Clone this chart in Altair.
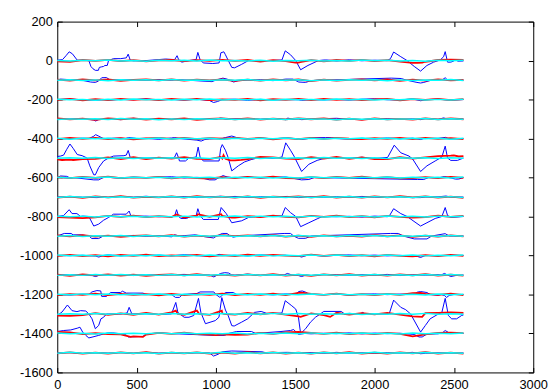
import altair as alt
import pandas as pd

# channel offsets (each trace is plotted around its own baseline)
OFFSETS = [0, -100, -200, -300, -400, -500, -600, -700,
           -800, -900, -1000, -1100, -1200, -1300, -1400, -1500]

X_TICKS = [0, 500, 1000, 1500, 2000, 2500, 3000]
Y_TICKS = [-1600, -1400, -1200, -1000, -800, -600, -400, -200, 0, 200]

# sample positions for the small fluctuations
GRID_X = [0, 80, 160, 240, 320, 400, 480, 560, 640, 720, 800, 880, 960, 1040, 1120,
          1200, 1280, 1360, 1440, 1520, 1600, 1680, 1760, 1840, 1920, 2000, 2080,
          2160, 2240, 2320, 2400, 2480, 2560]

# blue traces: (sample, deviation from channel baseline)
BLUE_POINTS = [
    [(0, 2), (33, 5), (55, 25), (75, 45), (95, 35), (126, 2), (199, 0), (212, -30), (225, -42),
     (240, -50), (259, -50), (265, -35), (280, -32), (292, -30), (300, -25), (315, -25), (323, 0),
     (354, 10), (400, 10), (435, 14), (447, 33), (460, 2), (560, 0), (683, 8), (740, 5), (755, 25),
     (765, 5), (785, -8), (830, 0), (875, 5), (886, 42), (900, 5), (920, -12), (980, -15),
     (1020, -12), (1031, 40), (1050, 45), (1060, 30), (1078, 0), (1100, -35), (1118, -37),
     (1160, -20), (1205, 0), (1416, 3), (1437, 50), (1470, 30), (1503, 0), (1534, -47),
     (1580, -25), (1646, 0), (1700, 3), (2080, 0), (2100, 10), (2120, 44), (2165, 20), (2205, 0),
     (2250, -30), (2290, -54), (2330, -25), (2372, -8), (2414, 3), (2435, 20), (2445, 46),
     (2460, -8), (2480, -8), (2497, -3), (2510, 5), (2525, -3), (2560, -2)],
    [(0, 0), (20, 5), (60, 3), (150, 0), (210, -10), (240, -12), (260, -5), (280, 12), (310, 13),
     (330, 2), (600, 0), (750, 3), (975, -8), (1000, 0), (1044, 10), (1070, 5), (1112, -10),
     (1140, -3), (1200, 0), (1440, 5), (1485, 5), (1522, -10), (1565, -12), (1600, -3), (1700, 0),
     (2105, 10), (2168, 8), (2200, 0), (2267, -12), (2290, -15), (2310, -12), (2350, -2),
     (2430, 3), (2445, 12), (2460, 0), (2560, 0)],
    [(0, 0), (250, -3), (300, 0), (600, 0), (960, -5), (985, -15), (1010, -10), (1040, 0),
     (1440, 0), (1540, -4), (1600, 0), (2290, -6), (2330, 0), (2560, 0)],
    [(0, 0), (230, -5), (242, -10), (260, -3), (300, 0), (1000, 0), (1030, 5), (1060, 0),
     (1453, 5), (1480, 0), (1540, -3), (1600, 0), (2290, -3), (2435, 6), (2460, 0), (2560, 0)],
    [(0, 0), (200, 0), (230, 12), (242, 20), (262, 12), (290, 0), (430, 0), (450, 5), (480, 3),
     (500, 0), (740, 5), (770, 0), (880, -8), (907, -13), (930, -5), (1060, 5), (1100, 13),
     (1130, 5), (1160, 0), (1450, 3), (1540, -5), (1580, 0), (1690, 5), (1730, 5), (1760, 0),
     (2290, -5), (2310, 0), (2447, 6), (2470, -2), (2560, 0)],
    [(0, 8), (20, 10), (40, 15), (60, 45), (80, 72), (100, 50), (126, 18), (157, 12), (175, 5),
     (188, 0), (205, -40), (230, -86), (240, -86), (261, -49), (292, -15), (323, 0), (354, 10),
     (420, 12), (435, 15), (447, 39), (460, 2), (560, 0), (700, 0), (740, 5), (752, 27), (765, 0),
     (770, -15), (808, -15), (830, 0), (875, 5), (888, 56), (900, 5), (920, -15), (1020, -15),
     (1030, 50), (1040, 69), (1060, 40), (1078, 0), (1100, -66), (1141, -40), (1180, -20),
     (1222, -8), (1260, 0), (1416, 5), (1440, 78), (1470, 40), (1492, 10), (1540, -69),
     (1586, -32), (1638, -12), (1690, 0), (2082, 3), (2124, 66), (2165, 27), (2217, 10),
     (2240, -5), (2290, -69), (2330, -40), (2382, -15), (2424, 5), (2445, 61), (2460, 0),
     (2480, -12), (2522, -12), (2560, 0)],
    [(0, 0), (20, 8), (60, 6), (100, 0), (230, -12), (261, -12), (290, 0), (900, 0), (960, -12),
     (995, -12), (1020, 0), (1045, 10), (1070, 3), (1100, 0), (1440, 3), (1540, -12), (1586, -10),
     (1620, 0), (2270, -10), (2310, -10), (2340, 0), (2440, 5), (2510, -8), (2530, -8), (2560, 0)],
    [(0, 0), (250, -3), (300, 0), (1030, 4), (1060, 0), (1450, 3), (1480, 0), (2290, -3),
     (2320, 0), (2450, 5), (2480, 0), (2560, 0)],
    [(0, 0), (40, 5), (75, 35), (93, 15), (124, 15), (147, 0), (199, 0), (230, -49), (261, -39),
     (292, -19), (323, -5), (354, 12), (435, 12), (453, 28), (465, 0), (700, 0), (740, 3),
     (752, 35), (765, 0), (780, -10), (815, -10), (840, 0), (875, 3), (886, 40), (900, 5),
     (920, -15), (1015, -15), (1033, 46), (1065, 15), (1100, -32), (1162, -22), (1205, -5),
     (1250, 0), (1416, 3), (1437, 46), (1470, 20), (1503, 0), (1534, -52), (1586, -32),
     (1638, -12), (1670, 0), (2093, 3), (2120, 40), (2165, 15), (2205, 0), (2290, -49),
     (2330, -32), (2382, -10), (2424, 0), (2445, 46), (2460, 5), (2480, -5), (2560, 0)],
    [(0, 0), (44, 13), (87, 13), (100, 6), (150, 6), (200, 0), (218, -13), (261, -13), (290, 0),
     (740, 6), (770, 0), (870, 6), (900, 0), (985, -10), (1005, 0), (1040, 13), (1070, 13),
     (1090, 0), (1110, -6), (1140, 0), (1430, 13), (1470, 13), (1490, 0), (1520, -12),
     (1565, -12), (1600, 0), (2100, 13), (2150, 13), (2180, 0), (2250, -15), (2330, -15),
     (2360, 0), (2445, 12), (2470, 0), (2560, 0)],
    [(0, 0), (240, -3), (262, -8), (290, 0), (1000, 0), (1020, 6), (1045, 0), (1520, -3),
     (1540, -8), (1570, 0), (2270, -5), (2290, -10), (2320, 0), (2560, 0)],
    [(0, 0), (220, -3), (242, -8), (270, 0), (960, 0), (987, -10), (1010, 0), (1030, 8),
     (1055, 12), (1080, 10), (1100, 0), (1430, 0), (1450, 8), (1480, 0), (1520, -3), (1540, -8),
     (1570, 0), (2420, 0), (2440, 8), (2460, 0), (2480, -8), (2510, -3), (2560, 0)],
    [(0, 0), (200, 0), (218, 13), (250, 20), (274, 18), (280, -10), (310, -10), (335, 10),
     (400, 10), (410, 17), (435, 7), (540, 7), (560, 0), (720, 0), (745, -15), (770, -15),
     (790, 0), (880, 5), (900, 13), (987, 13), (1000, 0), (1025, -15), (1045, 0), (1060, 10),
     (1110, 10), (1130, 0), (1500, 0), (1522, 15), (1544, 18), (1565, 12), (1590, 0), (2250, 0),
     (2270, 12), (2290, 15), (2330, 10), (2350, 0), (2420, 0), (2440, -5), (2454, -15),
     (2470, -5), (2500, 0), (2560, 0)],
    [(0, -8), (30, 10), (64, 46), (93, 17), (124, 12), (147, 17), (180, 15), (199, 0),
     (219, -25), (240, -76), (261, -59), (275, -25), (292, -17), (310, 0), (400, 0), (440, 5),
     (453, 34), (470, 0), (720, 0), (747, 59), (760, 8), (800, -17), (830, -17), (860, -8),
     (890, 80), (905, 8), (934, -50), (996, -34), (1019, -17), (1037, 84), (1060, 20),
     (1078, -10), (1100, -60), (1115, -62), (1162, -42), (1200, -25), (1243, 8), (1285, 13),
     (1320, 3), (1416, 5), (1437, 68), (1478, 42), (1503, 25), (1520, -17), (1534, -101),
     (1565, -76), (1596, -42), (1627, -17), (1658, 0), (1680, 13), (1790, 13), (1810, 0),
     (1910, 0), (1925, 8), (1940, 0), (2093, 3), (2120, 71), (2165, 34), (2196, 22), (2227, 0),
     (2290, -93), (2320, -59), (2350, -25), (2392, -5), (2424, 8), (2445, 80), (2465, -8),
     (2486, -25), (2517, -25), (2548, -8), (2560, -5)],
    [(0, 10), (40, 15), (85, 18), (126, 27), (143, 32), (160, 7), (180, -10), (199, -23),
     (219, -19), (261, -10), (290, -3), (350, 3), (430, -5), (447, -18), (540, -15), (560, -3),
     (700, 0), (990, -10), (1055, -10), (1080, 0), (1130, 10), (1224, 10), (1250, 0), (1410, 10),
     (1470, 15), (1490, 20), (1520, -5), (1560, 0), (2250, -5), (2280, -18), (2300, -18),
     (2330, -3), (2430, 5), (2445, 15), (2470, 3), (2560, 0)],
    [(0, 0), (400, 2), (960, 0), (985, -16), (1016, -6), (1040, 6), (1100, 10), (1290, 6),
     (1320, 0), (1450, 3), (2290, -4), (2560, 0)],
]

# small blue fluctuations at GRID_X (used only on the quiet stretches)
BLUE_NOISE = [
    [2, -3, 1, 4, -2, 3, -1, 2, -4, 1, 3, -2, 2, -3, 1, 4, -2, 1, -3, 2, -1, 3, -2, 4, -1, 2, -3, 1, 3, -2, 2, -1, 1],
    [-3, 2, -1, 3, -4, 1, 2, -2, 3, -1, 2, -3, 1, -2, 4, -1, 2, -3, 1, 3, -2, 1, -4, 2, -1, 3, -2, 2, -1, -3, 2, -2, 1],
    [1, 3, -2, 2, -3, 1, -1, 4, -2, 1, -3, 2, 3, -1, 2, -4, 1, -2, 3, -1, 2, -2, 1, -3, 2, 4, -1, -2, 3, -1, 2, -3, 2],
    [-2, 1, 3, -1, 2, -3, 4, -2, 1, -1, 3, -2, 2, -4, 1, 2, -1, 3, -3, 1, -2, 2, 4, -1, -3, 1, 2, -2, 1, 3, -2, 1, -1],
    [3, -1, 2, -3, 1, 2, -2, 1, -4, 3, -1, 2, -2, 1, 3, -3, 2, -1, 1, -2, 4, -1, 2, -3, 1, -2, 3, -1, 2, -4, 1, 2, -2],
    [-1, 3, -2, 1, -3, 2, 1, -2, 3, -1, -2, 4, -1, 2, -3, 1, 2, -2, 3, -1, 1, -3, 2, -1, 4, -2, 1, -1, 2, -3, 3, -1, 2],
    [2, -2, 3, -1, 1, -3, 2, -1, 2, 4, -2, 1, -3, 2, -1, 3, -2, 1, -1, 2, -4, 1, 3, -2, 1, -1, 2, -3, 1, 2, -2, 3, -1],
    [-3, 1, -1, 2, -2, 3, -1, 4, -2, 1, 2, -3, 1, -1, 3, -2, 2, -1, 4, -3, 1, -2, 2, -1, 3, -1, -2, 2, -3, 1, 1, -2, 2],
    [1, -2, 2, -1, 3, -3, 1, 2, -1, -2, 3, -1, 2, -3, 1, 1, -2, 3, -1, 2, -2, 4, -1, 1, -3, 2, -1, 3, -2, 1, -1, 2, -2],
    [-2, 2, -3, 1, 2, -1, 3, -2, 1, -4, 2, -1, 1, 3, -2, 2, -1, -3, 2, 1, -1, 3, -2, 2, -1, -2, 4, -1, 1, -3, 2, -1, 1],
    [2, -1, 1, -3, 3, -2, 1, -1, 2, -2, 4, -1, -3, 2, 1, -2, 3, -1, 1, -2, 2, -3, 1, 3, -1, 2, -2, 1, -4, 2, -1, 1, -2],
    [-1, 2, -2, 3, -1, 1, -3, 2, -2, 1, 3, -1, 2, -2, -1, 4, -2, 1, -1, 3, -3, 2, 1, -2, 2, -1, 3, -3, 1, -1, 2, -2, 1],
    [1, -3, 2, -1, 2, -2, 3, -1, 1, -2, 2, 4, -1, -3, 2, -1, 1, -2, 3, -2, 1, -1, 2, -3, 1, 3, -1, 2, -2, 1, -4, 2, -1],
    [-2, 1, -1, 3, -2, 2, -1, 1, -3, 2, -1, 2, -2, 1, 3, -1, -2, 2, -1, 1, -3, 2, -1, 3, -2, 1, -1, 2, -2, 3, -1, 1, -2],
    [2, -2, 1, -1, 3, -2, 1, -3, 2, -1, 2, -1, 3, -2, 1, -1, 2, -4, 1, 2, -2, 1, -1, 3, -2, 2, -1, 1, -3, 2, -2, 1, -1],
    [-1, 2, -3, 2, -1, 1, -2, 3, -1, 2, -2, 1, -1, 3, -2, 1, -3, 2, -1, 1, 2, -2, 3, -1, 1, -2, 2, -1, 3, -2, 1, -1, 2],
]

# red traces: deviation at each GRID_X sample
RED_NOISE = [
    [-4, -6, 3, -2, 4, -3, 2, -4, 1, 3, -3, 2, -2, 4, -1, 3, -5, 2, -3, -10, 2, -4, 3, -2, 4, -3, 2, -5, -12, -6, 3, 5, 3],
    [2, -3, 4, -2, 3, -4, 1, 3, -2, 4, -3, 2, -1, 3, -4, 2, -3, 4, -2, 3, -5, 2, -3, 1, 4, -2, 3, -4, 2, -3, 4, -2, 1],
    [-2, 3, -4, 2, -3, 4, -1, 2, -3, 3, -2, 4, -3, 1, -2, 3, -4, 2, -1, 3, -3, 4, -2, 2, -3, 1, 3, -4, 2, -2, 3, -3, 2],
    [3, -2, 2, -4, 3, -1, 4, -3, 2, -2, 3, -4, 1, 3, -2, 4, -3, 2, -2, 3, -1, 4, -3, 2, -4, 3, -2, 1, -3, 4, -2, 3, -1],
    [-3, 4, -2, 3, -3, 2, -4, 1, 3, -2, 4, -3, 2, -1, 4, -2, 3, -4, 2, -3, 3, -2, 4, -1, -3, 2, -2, 4, -3, 3, -2, 2, -3],
    [-7, -8, -6, -4, 3, -5, 4, -6, 2, -3, 5, -4, -6, -3, -12, -5, 6, 4, -3, -5, 5, -3, 6, -4, 3, -6, -5, 4, -3, 3, 10, 12, 10],
    [2, -3, 3, -2, 4, -3, 1, -2, 3, -4, 2, -3, -5, 2, -3, 3, -2, 4, -3, -4, 2, -3, 3, -2, 4, -3, 2, -4, -3, 2, -3, 3, -2],
    [-3, 2, -4, 3, -2, 4, -3, 1, -2, 3, -3, 4, -2, 2, -3, 3, -4, 2, -1, 3, -2, 4, -3, 2, -3, 3, -2, 4, -2, 3, -3, 2, -4],
    [-3, -6, -8, -4, 3, -2, 4, -3, 2, -3, -5, 4, -2, 3, -6, 2, -3, 4, -2, -4, 3, -2, 4, -3, 2, -4, 3, -2, -6, -3, 4, -2, 3],
    [3, -2, 4, -3, 2, -4, 1, 3, -2, 4, -3, 2, -3, 4, -1, 3, -2, 4, -3, 2, -4, 3, -2, 1, -3, 4, -2, 3, -4, 2, -3, 3, -2],
    [-2, 3, -3, 2, -4, 3, -2, 4, -3, 1, -2, 3, -4, 2, -3, 4, -2, 3, -1, -3, 4, -2, 3, -3, 2, -4, 3, -2, -4, 2, -3, 3, -2],
    [2, -4, 3, -2, 3, -3, 2, -4, 1, 3, -2, 4, -3, 2, -3, 3, -2, 4, -3, 2, -4, 3, -2, 4, -3, 2, -3, 3, -2, 4, -3, 2, -3],
    [-3, 2, -2, 4, -3, 3, -2, 2, -4, 3, -3, 2, -2, 4, -3, 3, -2, 4, -3, 8, 3, -2, 4, -3, 2, -3, 3, -2, 7, 3, -2, 4, -3],
    [-8, -10, -6, 4, -5, 3, -4, 5, -3, 8, -4, 6, -5, 4, -3, 6, -2, 5, -4, -12, 3, -6, 6, -3, 4, -2, 5, -3, -12, 4, 6, 8, 5],
    [8, 5, -3, 2, -4, -5, -15, -6, 3, -2, 4, -3, -6, -5, -7, -4, 3, -2, 5, 8, 3, -2, 4, -3, 2, -3, 3, -2, -15, -5, 3, 4, 2],
    [-2, 3, -3, 2, -4, 3, -2, 4, -3, 2, -2, 3, -4, 2, -3, 4, -2, 3, -3, 2, -4, 3, -2, 4, -3, 2, -3, 3, -2, 4, -3, 2, -3],
]

# extra red excursions: (sample, deviation)
RED_SPIKES = [
    [(1500, -10), (1530, -8), (2270, -12), (2300, -10)],
    [], [], [], [],
    [(30, -10), (100, -10), (1030, 6), (1048, 15), (1060, -4), (1090, -12), (1160, -10), (2500, 14), (2530, 8)],
    [], [],
    [(752, 10), (886, 12), (1033, 12), (1100, -6)],
    [], [], [],
    [(1540, 10), (2290, 8)],
    [(747, 17), (760, 0), (880, 17), (895, 0), (1037, 17), (1050, 0), (1534, -15), (1720, -15), (2300, -15)],
    [(462, -18), (540, -18), (1000, -8), (1200, -6)],
    [],
]

# cyan traces: deviation at each GRID_X sample
CYAN_NOISE = [
    [1, -2, 2, -1, 3, -2, 1, -3, 2, -1, 2, -2, 3, -1, 1, -2, 2, -3, 1, -1, 2, -2, 1, -2, 3, -1, 2, -2, 1, -3, 2, -1, 2],
    [-1, 2, -2, 1, -3, 2, -1, 2, -2, 3, -1, 1, -2, 2, -1, 3, -2, 1, -1, 2, -3, 1, -2, 2, -1, 2, -3, 1, -2, 1, -1, 3, -2],
    [2, -1, 1, -3, 2, -2, 3, -1, 1, -2, 2, -1, 3, -2, 1, -1, 2, -3, 2, -1, 1, -2, 3, -1, 2, -2, 1, -1, 3, -2, 1, -2, 2],
    [-2, 1, -1, 2, -2, 3, -1, 2, -3, 1, -2, 2, -1, 3, -2, 1, -1, 2, -2, 3, -1, 1, -3, 2, -1, 2, -2, 1, -1, 3, -2, 2, -1],
    [1, -3, 2, -1, 2, -2, 1, -1, 3, -2, 2, -1, 1, -3, 2, -2, 1, -1, 3, -2, 1, -2, 2, -1, 3, -1, 2, -2, 1, -1, 2, -3, 1],
    [-1, 2, -1, 3, -2, 1, -2, 2, -1, 1, -3, 2, -2, 1, -1, 3, -2, 2, -1, 1, -2, 3, -1, 2, -2, 1, -3, 2, -1, 2, -2, 1, -1],
    [2, -2, 1, -1, 3, -2, 2, -1, 1, -2, 3, -1, 2, -3, 1, -1, 2, -2, 1, -2, 3, -1, 1, -2, 2, -1, 3, -2, 1, -1, 2, -2, 3],
    [-2, 3, -1, 2, -2, 1, -3, 2, -1, 3, -2, 1, -1, 2, -2, 3, -1, 1, -2, 2, -3, 1, -1, 3, -2, 2, -1, 1, -2, 3, -1, 2, -2],
    [1, -1, 2, -2, 3, -1, 1, -3, 2, -1, 2, -2, 1, -1, 3, -2, 2, -1, 1, -2, 2, -3, 1, -1, 2, -2, 3, -1, 1, -2, 2, -1, 1],
    [-1, 2, -3, 1, -1, 2, -2, 3, -1, 1, -2, 2, -1, 3, -2, 1, -1, 2, -3, 2, -1, 1, -2, 2, -1, 3, -2, 1, -1, 2, -2, 3, -1],
    [2, -1, 1, -2, 2, -3, 1, -1, 3, -2, 1, -2, 2, -1, 1, -3, 2, -2, 1, -1, 3, -2, 2, -1, 1, -2, 3, -1, 2, -2, 1, -1, 2],
    [-2, 1, -2, 3, -1, 2, -1, 1, -2, 2, -3, 1, -1, 2, -2, 3, -1, 1, -2, 2, -1, 3, -2, 1, -1, 2, -2, 1, -3, 2, -1, 2, -1],
    [1, -2, 3, -1, 2, -2, 1, -1, 2, -3, 1, -2, 2, -1, 3, -1, 2, -2, 1, -1, 2, -2, 3, -1, 1, -2, 2, -1, 1, -3, 2, -2, 1],
    [-1, 1, -2, 2, -1, 3, -2, 1, -1, 2, -2, 1, -3, 2, -1, 1, -2, 3, -1, 2, -2, 1, -1, 2, -3, 1, -2, 2, -1, 3, -1, 1, -2],
    [2, -2, 1, -3, 2, -1, 1, -2, 3, -1, 2, -2, 1, -1, 2, -3, 1, -1, 2, -2, 3, -1, 1, -2, 2, -1, 1, -3, 2, -2, 1, -1, 2],
    [-1, 3, -2, 1, -1, 2, -2, 1, -3, 2, -1, 2, -2, 3, -1, 1, -2, 2, -1, 1, -3, 2, -2, 1, -1, 3, -2, 1, -1, 2, -2, 1, -1],
]


def blue_series(points, noise):
    """Key points, plus the small fluctuations on stretches that stay near the baseline."""
    pts = dict(points)
    xs_sorted = sorted(pts)
    for gx, gv in zip(GRID_X, noise):
        if gx in pts:
            continue
        prev = [x for x in xs_sorted if x < gx]
        nxt = [x for x in xs_sorted if x > gx]
        if not prev or not nxt:
            continue
        a, b = prev[-1], nxt[0]
        if abs(pts[a]) <= 6 and abs(pts[b]) <= 6 and gx - a > 10 and b - gx > 10:
            pts[gx] = gv
    return sorted(pts.items())


rows = []
for ch, off in enumerate(OFFSETS):
    for x, dy in blue_series(BLUE_POINTS[ch], BLUE_NOISE[ch]):
        rows.append({"x": x, "y": off + dy, "trace": f"b{ch}", "kind": "blue"})
    red = dict(zip(GRID_X, RED_NOISE[ch]))
    for x, dy in RED_SPIKES[ch]:
        red[x] = dy
    for x in sorted(red):
        rows.append({"x": x, "y": off + red[x], "trace": f"r{ch}", "kind": "red"})
    for x, dy in zip(GRID_X, CYAN_NOISE[ch]):
        rows.append({"x": x, "y": off + dy, "trace": f"c{ch}", "kind": "cyan"})
df = pd.DataFrame(rows)

xs = alt.Scale(domain=[0, 3000], nice=False, zero=False)
ys = alt.Scale(domain=[-1600, 200], nice=False, zero=False)

# inward ticks: the axis is moved 5px inside the frame and its 5px ticks point back to the frame
common = dict(
    grid=False,
    domain=False,
    offset=-5,
    tickSize=5,
    tickColor="black",
    tickWidth=1,
    labelColor="black",
    labelFont="Liberation Sans",
    labelFontSize=13,
    labelFlush=False,
    labelOverlap=False,
    title=None,
)

x_bottom = alt.Axis(orient="bottom", values=X_TICKS, labelPadding=6,
                    labelExpr="'' + datum.value", **common)
y_left = alt.Axis(orient="left", values=Y_TICKS, labelPadding=5,
                  labelExpr="'' + datum.value", **common)
x_top = alt.Axis(orient="top", values=X_TICKS, labels=False, **common)
y_right = alt.Axis(orient="right", values=Y_TICKS, labels=False, **common)


def lines(kind, color, width, with_axes=False):
    return alt.Chart(df[df["kind"] == kind]).mark_line(color=color, strokeWidth=width).encode(
        x=alt.X("x:Q", scale=xs, axis=x_bottom if with_axes else None),
        y=alt.Y("y:Q", scale=ys, axis=y_left if with_axes else None),
        detail="trace:N",
    )


frame = alt.Chart(pd.DataFrame({"x": [0], "y": [0]})).mark_point(opacity=0).encode(
    x=alt.X("x:Q", scale=xs, axis=x_top),
    y=alt.Y("y:Q", scale=ys, axis=y_right),
)

chart = (
    alt.layer(
        lines("blue", "#0000ff", 1.0, True),
        lines("red", "#ff0000", 1.8),
        lines("cyan", "#00ffff", 1.5),
        frame,
    )
    .resolve_axis(x="independent", y="independent")
    .properties(
        width=483,
        height=356,
        autosize=alt.AutoSizeParams(type="none"),
        padding={"left": 50, "top": 11, "right": 17, "bottom": 14},
        background="white",
    )
    .configure_view(stroke="black", strokeWidth=1)
)

chart.save("out.html", embed_options={"renderer": "svg", "actions": False})
